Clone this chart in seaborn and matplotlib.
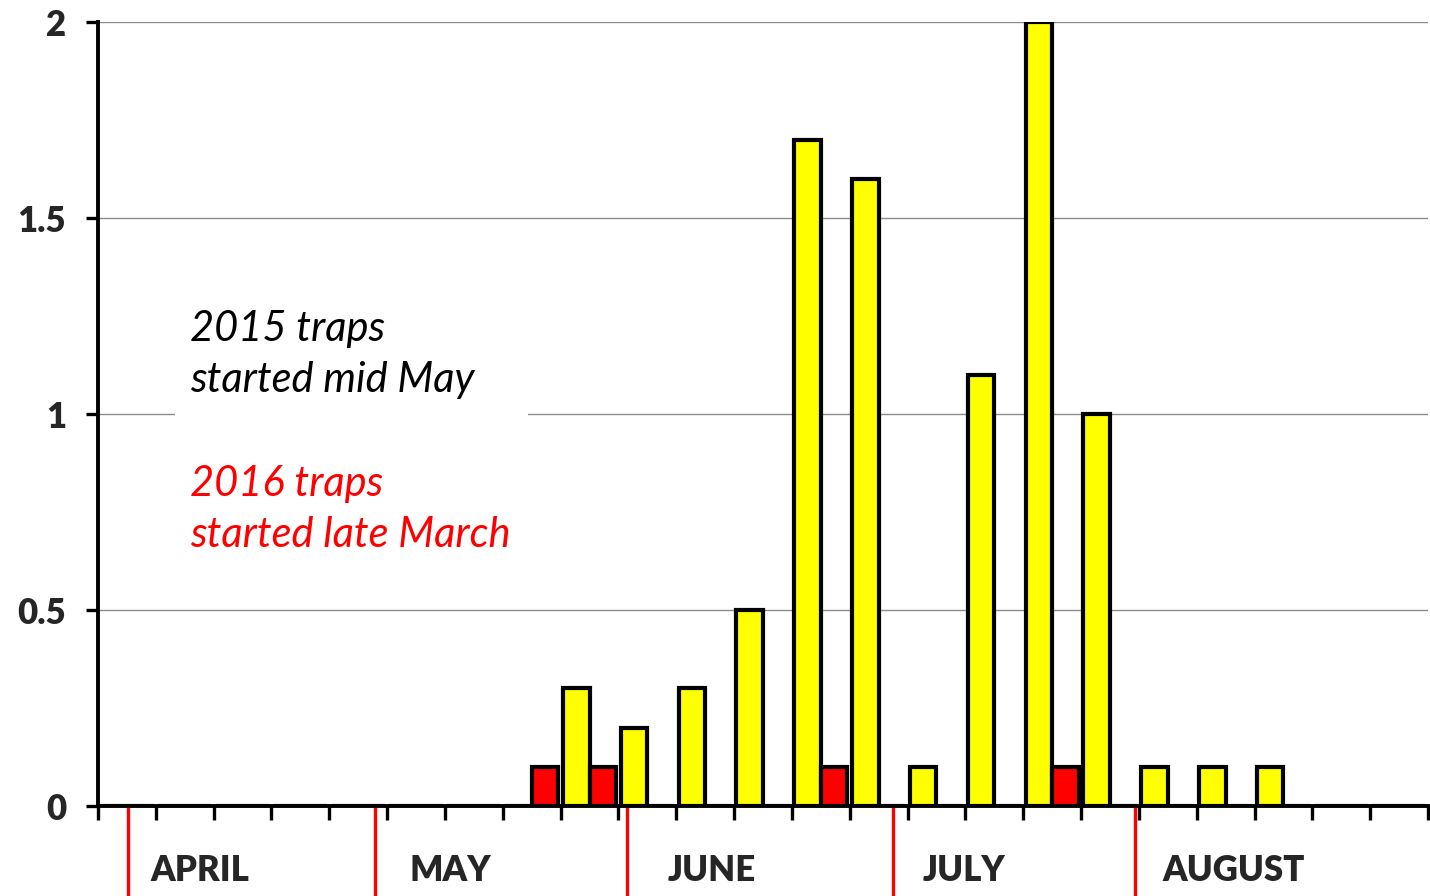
import numpy as np
import pandas as pd
import matplotlib
matplotlib.use("Agg")
import matplotlib.pyplot as plt
from matplotlib.patches import Rectangle
import seaborn as sns

# weekly trap counts, 23 weeks from late March to end of August
weeks = list(range(23))
traps_2015 = [0, 0, 0, 0, 0, 0, 0, 0, 0.3, 0.2, 0.3, 0.5, 1.7, 1.6,
              0.1, 1.1, 2.0, 1.0, 0.1, 0.1, 0.1, 0, 0]
traps_2016 = [0, 0, 0, 0, 0, 0, 0, 0.1, 0.1, 0, 0, 0, 0.1, 0,
              0, 0, 0.1, 0, 0, 0, 0, 0, 0]

# month boundaries and labels, in week units
month_starts = [0.52, 4.79, 9.15, 13.75, 17.93]
month_names = ['APRIL', 'MAY', 'JUNE', 'JULY', 'AUGUST']
month_label_pos = [1.76, 6.10, 10.62, 14.97, 19.64]

y_ticks = [0, 0.5, 1, 1.5, 2]
y_tick_labels = ['0', '0.5', '1', '1.5', '2']


def build_frame():
    df = pd.DataFrame({
        'week': weeks * 2,
        'count': traps_2015 + traps_2016,
        'year': ['2015'] * len(weeks) + ['2016'] * len(weeks),
    })
    return df


def main():
    sns.set_theme(style='white')
    plt.rcParams['font.family'] = ['Lato', 'DejaVu Sans']

    df = build_frame()

    fig = plt.figure(figsize=(14.3, 8.96), dpi=100)
    ax = fig.add_axes([98 / 1430, 90 / 896, 1330 / 1430, 784 / 896])

    sns.barplot(data=df, x='week', y='count', hue='year',
                palette={'2015': '#ffff00', '2016': '#ff0000'},
                saturation=1, width=0.92, edgecolor='black', linewidth=3,
                legend=False, ax=ax, zorder=3)

    ax.set_xlim(-0.5, len(weeks) - 0.5)
    ax.set_ylim(0, 2)
    ax.set_xlabel('')
    ax.set_ylabel('')

    # y axis
    ax.set_yticks(y_ticks)
    ax.set_yticklabels(y_tick_labels, fontsize=25, fontweight='heavy')
    ax.yaxis.grid(True, color='#8c8c8c', linewidth=1.0, zorder=0)
    ax.set_axisbelow(True)

    # x axis: ticks at week boundaries, no labels
    ax.set_xticks(np.arange(len(weeks) + 1) - 0.5)
    ax.set_xticklabels([])
    ax.tick_params(axis='x', direction='out', length=10, width=2.4,
                   color='black', bottom=True)
    ax.tick_params(axis='y', direction='out', length=9, width=2.4,
                   color='black', left=True, pad=14)

    for side in ['top', 'right']:
        ax.spines[side].set_visible(False)
    for side in ['left', 'bottom']:
        ax.spines[side].set_linewidth(2.8)
        ax.spines[side].set_color('black')
        ax.spines[side].set_zorder(4)

    # month separators and names below the axis
    xt = ax.get_xaxis_transform()
    for pos in month_starts:
        ax.plot([pos - 0.5, pos - 0.5], [0, -0.12], color='red',
                linewidth=2.4, transform=xt, clip_on=False)
    for name, pos in zip(month_names, month_label_pos):
        ax.text(pos - 0.5, -0.082, name, transform=xt, ha='center',
                va='center', fontsize=25, fontweight='heavy')

    # white note box over the gridline
    ax.add_patch(Rectangle((0.058, 0.314), 0.265, 0.33,
                           transform=ax.transAxes, facecolor='white',
                           edgecolor='none', zorder=2))
    ax.text(0.069, 0.5765, '2015 traps\nstarted mid May',
            transform=ax.transAxes, ha='left', va='center',
            fontsize=30, fontstyle='italic', color='black',
            linespacing=1.42, zorder=5)
    ax.text(0.069, 0.3776, '2016 traps\nstarted late March',
            transform=ax.transAxes, ha='left', va='center',
            fontsize=30, fontstyle='italic', color='red',
            linespacing=1.42, zorder=5)

    fig.savefig('out.png', dpi=100, facecolor='white')


if __name__ == "__main__":
    main()
